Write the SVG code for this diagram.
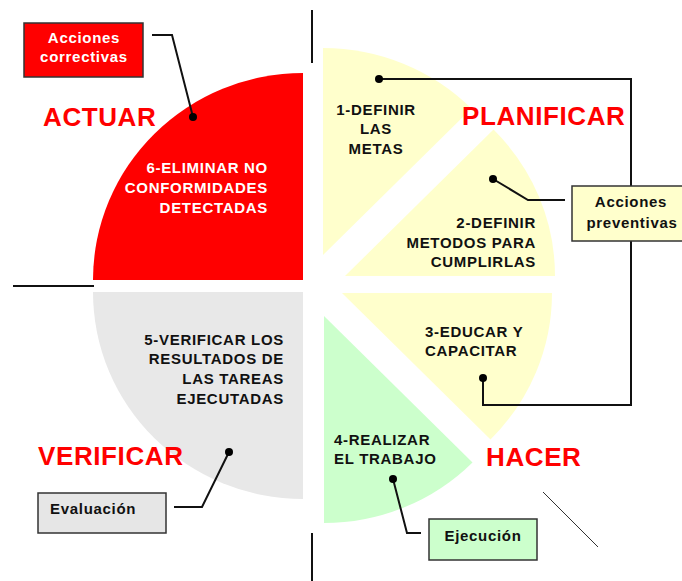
<svg xmlns="http://www.w3.org/2000/svg" width="682" height="581" viewBox="0 0 682 581">
<style>
.lbl{font-family:"Liberation Sans",Arial,sans-serif;font-weight:bold;font-size:15px;letter-spacing:0.7px}
.big{font-family:"Liberation Sans",Arial,sans-serif;font-weight:bold;font-size:26px;letter-spacing:0.6px;fill:#FF0000}
.blk{fill:#111}
.wht{fill:#FFFFFF}
.ln{fill:none;stroke:#111;stroke-width:2}
.dot{fill:#000}
.box{stroke:#333;stroke-width:1.5}
</style>
<rect width="682" height="581" fill="#FFFFFF"/>
<g id="wedges">
<path id="actuar-wedge" d="M303,280 L303,73 A210,207 0 0,0 93,280 Z" fill="#FF0000"/>
<path id="verificar-wedge" d="M303,292 L93,292 A210,207 0 0,0 303,499 Z" fill="#E8E8E8"/>
<path id="plan1-wedge" d="M323,255 L323,48 A210,207 0 0,1 471.5,108.6 Z" fill="#FFFFCC"/>
<path id="plan2-wedge" d="M345,276 L493.5,129.6 A210,207 0 0,1 555,276 Z" fill="#FFFFCC"/>
<path id="hacer3-wedge" d="M342,293 L552,293 A210,207 0 0,1 490.5,439.4 Z" fill="#FFFFCC"/>
<path id="hacer4-wedge" d="M324,316 L472.5,462.4 A210,207 0 0,1 324,523 Z" fill="#CCFFCC"/>
</g>
<g id="axes" stroke="#111">
<line x1="312" y1="10" x2="312" y2="63" stroke-width="2"/>
<line x1="312" y1="533" x2="312" y2="581" stroke-width="2"/>
<line x1="13" y1="286" x2="94" y2="286" stroke-width="2"/>
<line x1="543" y1="492" x2="598" y2="547" stroke-width="1" stroke="#333"/>
</g>
<g id="connectors">
<polyline class="ln" points="152,35 172,35 193,117"/>
<circle class="dot" cx="193" cy="117" r="4"/>
<polyline class="ln" points="379,79 631,79 631,405 483,405 483,378"/>
<circle class="dot" cx="379" cy="79" r="4"/>
<circle class="dot" cx="483" cy="378" r="4"/>
<polyline class="ln" points="493,179 528,200 565,200"/>
<circle class="dot" cx="493" cy="179" r="4"/>
<polyline class="ln" points="393,479 407,533 421,533"/>
<circle class="dot" cx="393" cy="479" r="4"/>
<polyline class="ln" points="229,452 202,507 174,507"/>
<circle class="dot" cx="229" cy="452" r="4"/>
</g>
<g id="acciones-correctivas">
<rect class="box" x="24" y="23" width="119" height="54" fill="#FF0000"/>
<text class="lbl wht" x="84" y="43" text-anchor="middle">Acciones</text>
<text class="lbl wht" x="84" y="62" text-anchor="middle">correctivas</text>
</g>
<g id="acciones-preventivas">
<rect class="box" x="572" y="186" width="120" height="55" fill="#FFFFCC"/>
<text class="lbl blk" x="631" y="207" text-anchor="middle">Acciones</text>
<text class="lbl blk" x="632" y="228" text-anchor="middle">preventivas</text>
</g>
<g id="ejecucion">
<rect class="box" x="429" y="519" width="108" height="41" fill="#CCFFCC"/>
<text class="lbl blk" x="483" y="541" text-anchor="middle">Ejecución</text>
</g>
<g id="evaluacion">
<rect class="box" x="38" y="493" width="128" height="40" fill="#E6E6E6"/>
<text class="lbl blk" x="50" y="514">Evaluación</text>
</g>
<g id="actuar">
<text class="big" x="43" y="126">ACTUAR</text>
<text class="lbl wht" x="268" y="173" text-anchor="end">6-ELIMINAR NO</text>
<text class="lbl wht" x="268" y="193" text-anchor="end">CONFORMIDADES</text>
<text class="lbl wht" x="268" y="213" text-anchor="end">DETECTADAS</text>
</g>
<g id="planificar">
<text class="big" x="462" y="125">PLANIFICAR</text>
<text class="lbl blk" x="376" y="115" text-anchor="middle">1-DEFINIR</text>
<text class="lbl blk" x="376" y="134" text-anchor="middle">LAS</text>
<text class="lbl blk" x="376" y="154" text-anchor="middle">METAS</text>
<text class="lbl blk" x="536" y="228" text-anchor="end">2-DEFINIR</text>
<text class="lbl blk" x="536" y="248" text-anchor="end">METODOS PARA</text>
<text class="lbl blk" x="536" y="267" text-anchor="end">CUMPLIRLAS</text>
</g>
<g id="hacer">
<text class="big" x="486" y="466">HACER</text>
<text class="lbl blk" x="425" y="337">3-EDUCAR Y</text>
<text class="lbl blk" x="425" y="356">CAPACITAR</text>
<text class="lbl blk" x="334" y="445">4-REALIZAR</text>
<text class="lbl blk" x="334" y="464">EL TRABAJO</text>
</g>
<g id="verificar">
<text class="big" x="38" y="465">VERIFICAR</text>
<text class="lbl blk" x="284" y="345" text-anchor="end">5-VERIFICAR LOS</text>
<text class="lbl blk" x="284" y="364" text-anchor="end">RESULTADOS DE</text>
<text class="lbl blk" x="284" y="384" text-anchor="end">LAS TAREAS</text>
<text class="lbl blk" x="284" y="404" text-anchor="end">EJECUTADAS</text>
</g>
</svg>
